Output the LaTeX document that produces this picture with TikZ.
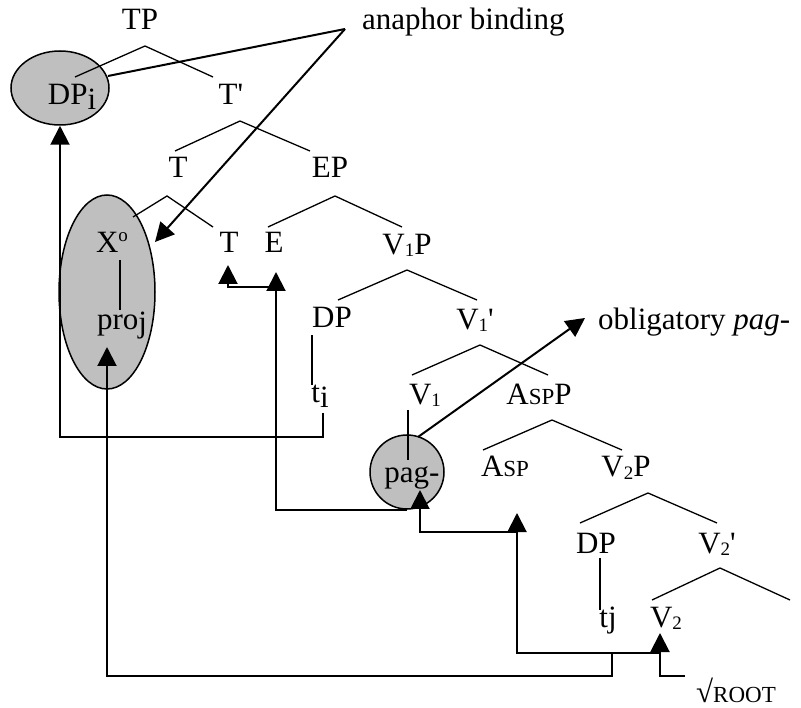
\documentclass[tikz,border=0pt]{standalone}
\usepackage{fontspec}
\setmainfont{Liberation Serif}
\usetikzlibrary{arrows.meta,positioning,shapes.geometric,calc}

\newcommand{\nsub}[1]{\raisebox{-2pt}{\fontsize{19}{19}\selectfont #1}}
\newcommand{\idx}[1]{\raisebox{-5pt}{#1}}
\newcommand{\smc}[1]{{\fontsize{23}{23}\selectfont #1}}

\begin{document}
\begin{tikzpicture}[x=1pt,y=-1pt,
  lbl/.style={inner sep=0pt,anchor=base,font=\fontsize{31}{34}\selectfont},
  branch/.style={line width=1.3pt},
  blob/.style={draw,line width=1.5pt,fill=black!25},
  link/.style={line width=2pt},
  arrow/.style={-{Triangle[length=19pt,width=19pt]},line width=2pt}]
  \useasboundingbox (0,0) rectangle (801,708);

  % shaded heads
  \node[blob,ellipse,minimum width=98pt,minimum height=74pt] (dpell) at (60,88) {};
  \node[blob,ellipse,minimum width=96pt,minimum height=194pt] (xell) at (107,292) {};
  \node[blob,circle,minimum size=74pt] (pagc) at (407,472) {};

  % labels
  \node[lbl] (tp) at (140,30) {TP};
  \node[lbl,anchor=base west] (bind) at (362,30) {anaphor binding};
  \node[lbl] (dpi) at (72,105) {DP\idx{i}};
  \node[lbl] (tbar) at (231,105) {T\textquotesingle};
  \node[lbl] (t1) at (178,178) {T};
  \node[lbl] (ep) at (330,178) {EP};
  \node[lbl] (x0) at (112,253) {X\raisebox{11pt}{\fontsize{19}{19}\selectfont o}};
  \node[lbl] (proj) at (122,330) {pro\raisebox{-3pt}{j}};
  \node[lbl] (t2) at (229,253) {T};
  \node[lbl] (e) at (274,253) {E};
  \node[lbl] (v1p) at (407,255) {V\nsub{1}P};
  \node[lbl] (dp1) at (332,328) {DP};
  \node[lbl] (v1bar) at (475,330) {V\nsub{1}\textquotesingle};
  \node[lbl,anchor=base west] (oblig) at (598,330) {obligatory \textit{pag}-};
  \node[lbl] (ti) at (320,403) {t\idx{i}};
  \node[lbl] (v1) at (425,405) {V\nsub{1}};
  \node[lbl] (aspp) at (539,405) {A\smc{SP}P};
  \node[lbl] (pag) at (412,483) {pag-};
  \node[lbl] (asp) at (505,477) {A\smc{SP}};
  \node[lbl] (v2p) at (626,477) {V\nsub{2}P};
  \node[lbl] (dp2) at (596,553) {DP};
  \node[lbl] (v2bar) at (717,553) {V\nsub{2}\textquotesingle};
  \node[lbl] (tj) at (608,627) {tj};
  \node[lbl] (v2) at (666,627) {V\nsub{2}};
  \node[lbl,anchor=base west] (root) at (696,702) {√\smc{ROOT}};

  % tree branches
  \foreach \a/\l/\r in {{145,46}/{75,77}/{213,77}, {240,121}/{175,151}/{310,151},
      {167,196}/{133,217}/{213,227}, {335,196}/{268,227}/{402,227},
      {407,270}/{338,300}/{477,300}, {480,345}/{412,375}/{548,375},
      {552,420}/{483,450}/{622,450}, {648,493}/{580,523}/{717,523},
      {720,568}/{652,600}/{790,600}}
    \draw[branch] (\l) -- (\a) -- (\r);
  \draw[branch] (120,260) -- (120,310);
  \draw[branch] (312,335) -- (312,385);
  \draw[branch] (408,410) -- (408,460);
  \draw[branch] (600,558) -- (600,610);

  % movement and binding
  \coordinate (bindpt) at (345,29);
  \draw[link] (bindpt) -- (108,76);
  \draw[arrow] (bindpt) -- (155,242);
  \draw[arrow] (323,413) |- (60,437) -- (dpell.south);
  \draw[arrow] (276,287) -| (228,265);
  \draw[arrow] (pagc.south) -| (276,272);
  \draw[arrow] (418,437) -- (585,318);
  \draw[arrow] (517,532) -| (420,490);
  \draw[arrow] (660,653) -| (517,513);
  \draw[arrow] (612,653) |- (107,676) -- (107,347);
  \draw[arrow] (685,676) -| (660,633);
\end{tikzpicture}
\end{document}
